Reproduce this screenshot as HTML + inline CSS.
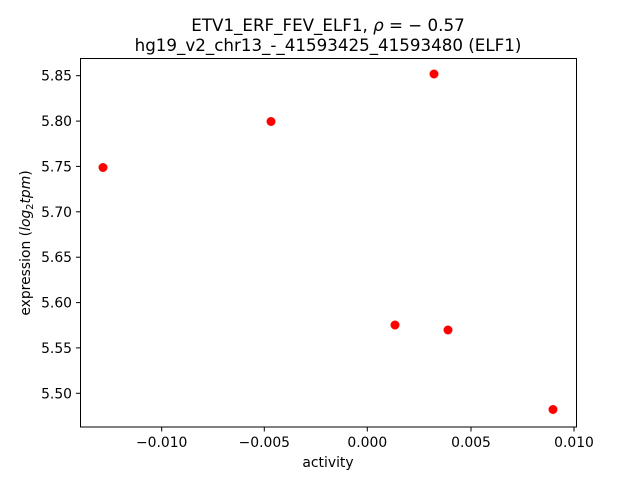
<!DOCTYPE html>
<html><head><style>body{margin:0;background:#fff}</style></head><body>
<svg width="640" height="480" xmlns="http://www.w3.org/2000/svg" font-family="'DejaVu Sans', sans-serif" font-size="13.9">
<rect width="640" height="480" fill="#fff"/>
<text x="328" y="31" font-size="16.7" text-anchor="middle">ETV1_ERF_FEV_ELF1, <tspan font-style="italic">ρ</tspan> = − 0.57</text>
<text x="328" y="51" font-size="16.7" text-anchor="middle">hg19_v2_chr13_-_41593425_41593480 (ELF1)</text>
<rect x="80.5" y="58.5" width="496" height="368.5" fill="none" stroke="#000" stroke-width="1"/>
<g stroke="#000">
<line x1="161.7" y1="427" x2="161.7" y2="431.5"/>
<line x1="264.3" y1="427" x2="264.3" y2="431.5"/>
<line x1="367.3" y1="427" x2="367.3" y2="431.5"/>
<line x1="471" y1="427" x2="471" y2="431.5"/>
<line x1="574" y1="427" x2="574" y2="431.5"/>
<line x1="76" y1="75.7" x2="80.5" y2="75.7"/>
<line x1="76" y1="121.1" x2="80.5" y2="121.1"/>
<line x1="76" y1="166.4" x2="80.5" y2="166.4"/>
<line x1="76" y1="211.8" x2="80.5" y2="211.8"/>
<line x1="76" y1="257.2" x2="80.5" y2="257.2"/>
<line x1="76" y1="302.6" x2="80.5" y2="302.6"/>
<line x1="76" y1="347.9" x2="80.5" y2="347.9"/>
<line x1="76" y1="393.3" x2="80.5" y2="393.3"/>
</g>
<g text-anchor="middle">
<text x="161.7" y="447">−0.010</text>
<text x="264.3" y="447">−0.005</text>
<text x="367.3" y="447">0.000</text>
<text x="471" y="447">0.005</text>
<text x="574" y="447">0.010</text>
<text x="328" y="467">activity</text>
</g>
<g text-anchor="end">
<text x="72" y="80.7">5.85</text>
<text x="72" y="126.1">5.80</text>
<text x="72" y="171.4">5.75</text>
<text x="72" y="216.8">5.70</text>
<text x="72" y="262.2">5.65</text>
<text x="72" y="307.6">5.60</text>
<text x="72" y="352.9">5.55</text>
<text x="72" y="398.3">5.50</text>
</g>
<text transform="translate(30,243) rotate(-90)" text-anchor="middle">expression (<tspan font-style="italic">log</tspan><tspan font-size="9.7" dy="3">2</tspan><tspan dy="-3" font-style="italic">tpm</tspan>)</text>
<g fill="#f00">
<circle cx="434" cy="74" r="4.5"/>
<circle cx="271" cy="121.5" r="4.5"/>
<circle cx="103" cy="167.5" r="4.5"/>
<circle cx="395" cy="325" r="4.5"/>
<circle cx="448" cy="330" r="4.5"/>
<circle cx="553" cy="409.5" r="4.5"/>
</g>
</svg>
</body></html>
